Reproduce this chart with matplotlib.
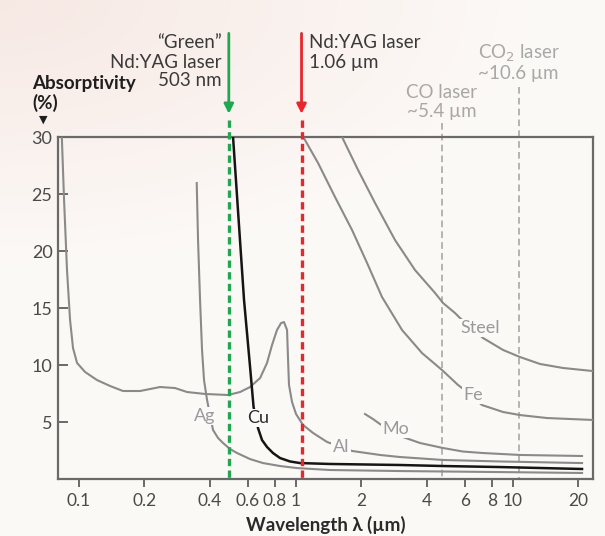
import numpy as np
import matplotlib
matplotlib.use("Agg")
import matplotlib.pyplot as plt

plt.rcParams['font.family'] = ['Lato', 'DejaVu Sans']

# ---------------- data (wavelength in µm, absorptivity in %) ----------------
al_x = [0.0833, 0.0853, 0.0880, 0.0909, 0.0938, 0.0979, 0.1066, 0.1210, 0.1390, 0.1595,
        0.1910, 0.2362, 0.2770, 0.3147, 0.3807, 0.486, 0.552, 0.614, 0.683, 0.735,
        0.775, 0.817, 0.853, 0.880, 0.909, 0.919, 0.928, 0.9585, 1.0, 1.077, 1.198,
        1.390, 1.812, 2.438, 3.016, 4.758, 8.713, 20.8]
al_y = [30.0, 24.47, 18.33, 13.95, 11.49, 10.18, 9.39, 8.68, 8.16, 7.72,
        7.72, 8.07, 7.98, 7.63, 7.46, 7.37, 7.63, 8.07, 8.86, 10.18,
        11.75, 13.07, 13.68, 13.77, 13.07, 10.44, 8.25, 6.75, 5.70, 4.74, 4.04,
        3.25, 2.46, 2.11, 1.93, 1.67, 1.54, 1.40]

ag_x = [0.3486, 0.3535, 0.3611, 0.3688, 0.3767, 0.389, 0.4145, 0.4371, 0.4609, 0.4965,
        0.5348, 0.614, 0.7046, 0.844, 1.011, 1.435, 3.016, 8.713, 20.8]
ag_y = [25.96, 20.96, 15.70, 11.32, 8.68, 6.93, 4.30, 3.60, 3.16, 2.63,
        2.28, 1.75, 1.40, 1.14, 0.96, 0.79, 0.70, 0.61, 0.53]

cu_x = [0.5125, 0.5759, 0.614, 0.6372, 0.668, 0.697, 0.735, 0.783, 0.844, 0.9385,
        1.043, 1.435, 3.016, 4.758, 8.713, 20.8]
cu_y = [30.0, 15.70, 9.82, 6.32, 4.47, 3.42, 2.81, 2.28, 1.84, 1.54,
        1.40, 1.32, 1.23, 1.14, 1.05, 0.88]

mo_x = [2.080, 2.263, 2.438, 3.113, 3.727, 4.758, 5.884, 7.274, 10.77, 20.8]
mo_y = [5.70, 5.26, 4.82, 3.68, 3.16, 2.72, 2.41, 2.28, 2.11, 2.02]

fe_x = [1.080, 1.263, 1.512, 1.812, 2.125, 2.491, 3.080, 3.807, 4.708, 5.578,
        5.82, 7.195, 8.994, 10.77, 14.34, 23.37]
fe_y = [30.0, 27.72, 24.74, 21.84, 18.95, 15.96, 13.07, 11.05, 9.56, 8.25,
        7.98, 6.49, 5.88, 5.61, 5.35, 5.18]

steel_x = [1.629, 1.931, 2.313, 2.859, 3.535, 4.371, 4.758, 5.403, 5.697, 7.274,
           8.994, 10.77, 13.32, 17.00, 23.37]
steel_y = [30.0, 27.11, 24.21, 20.96, 18.33, 16.32, 15.44, 14.56, 14.12, 12.37,
           11.32, 10.70, 10.09, 9.74, 9.47]

# label positions (x µm, y %)
labels = {"Ag": (0.3807, 5.53), "Cu": (0.668, 5.35), "Al": (1.612, 2.81),
          "Mo": (2.889, 4.39), "Fe": (6.541, 7.37), "Steel": (7.046, 13.25)}

green_x = 0.49
red_x = 1.06
co_x = 4.7
co2_x = 10.6

x_ticks = [0.1, 0.2, 0.4, 0.6, 0.8, 1, 2, 4, 6, 8, 10, 20]
x_ticklabels = ['0.1', '0.2', '0.4', '0.6', '0.8', '1', '2', '4', '6', '8', '10', '20']
y_ticks = [5, 10, 15, 20, 25, 30]

# ---------------- styling ----------------
bg = '#fcf9f6'
curve_grey = '#8a8a8a'
label_grey = '#9a9a9a'
green = '#1fa84f'
red = '#e8262c'
co_grey = '#a8a8a8'
spine_c = '#6a6a6a'
text_c = '#3a3a3a'

fig = plt.figure(figsize=(6.05, 5.36), dpi=100)
fig.patch.set_facecolor(bg)

# subtle background gradient (pinkish top-left)
bga = fig.add_axes([0, 0, 1, 1], zorder=-10)
yy, xx = np.mgrid[0:1:200j, 0:1:200j]
d = np.clip(np.sqrt((xx / 0.9) ** 2 + (yy / 0.5) ** 2), 0, 1)
c0 = np.array([0.968, 0.912, 0.893])
c1 = np.array([0.988, 0.978, 0.968])
img = c0[None, None, :] * (1 - d[..., None]) + c1[None, None, :] * d[..., None]
bga.imshow(img, aspect='auto', extent=[0, 1, 0, 1], origin='upper')
bga.axis('off')

ax = fig.add_axes([0.0959, 0.1063, 0.8843, 0.6381])
ax.set_facecolor('none')
ax.set_xscale('log')
ax.set_xlim(0.0800, 23.37)
ax.set_ylim(0, 30)

lw = 1.5
for xs, ys in ((al_x, al_y), (ag_x, ag_y), (mo_x, mo_y), (fe_x, fe_y), (steel_x, steel_y)):
    ax.plot(xs, ys, color=curve_grey, lw=lw, zorder=3, solid_joinstyle='round')
ax.plot(cu_x, cu_y, color='#151515', lw=1.8, zorder=4, solid_joinstyle='round')

for name, (lx, ly) in labels.items():
    col = '#2a2a2a' if name == 'Cu' else label_grey
    ax.text(lx, ly, name, color=col, fontsize=13, ha='center', va='center', zorder=6,
            bbox=dict(boxstyle='square,pad=0.08', fc='#fcfaf8', ec='none'))

trans = ax.get_xaxis_transform()

# laser lines
ax.plot([co_x, co_x], [1.041, 0], transform=trans, color=co_grey, lw=1.2,
        ls=(0, (4, 2.5)), clip_on=False, zorder=2)
ax.plot([co2_x, co2_x], [1.146, 0], transform=trans, color=co_grey, lw=1.2,
        ls=(0, (4, 2.5)), clip_on=False, zorder=2)
for xv, col in ((green_x, green), (red_x, red)):
    ax.plot([xv, xv], [1.05, 0], transform=trans, color=col, lw=2.4,
            ls=(0, (2.2, 1.3)), clip_on=False, zorder=5)
    ax.annotate('', xy=(xv, 1.068), xytext=(xv, 1.303), xycoords=trans,
                textcoords=trans, annotation_clip=False,
                arrowprops=dict(arrowstyle='-|>', color=col, lw=2.0,
                                mutation_scale=14, shrinkA=0, shrinkB=0))

fs = 13.5
for txt, yf in (('\u201cGreen\u201d', 1.275), ('Nd:YAG laser', 1.219), ('503 nm', 1.164)):
    ax.annotate(txt, xy=(green_x, yf), xycoords=trans, xytext=(-5, 0),
                textcoords='offset points', ha='right', va='center',
                fontsize=fs, color=text_c, annotation_clip=False)
for txt, yf in (('Nd:YAG laser', 1.275), ('1.06 \u00b5m', 1.219)):
    ax.annotate(txt, xy=(red_x, yf), xycoords=trans, xytext=(5.5, 0),
                textcoords='offset points', ha='left', va='center',
                fontsize=fs, color=text_c, annotation_clip=False)
for txt, yf in (('CO$_2$ laser', 1.246), ('~10.6 \u00b5m', 1.187)):
    ax.text(co2_x, yf, txt, transform=trans, ha='center', va='center',
            fontsize=fs, color=co_grey)
for txt, yf in (('CO laser', 1.129), ('~5.4 \u00b5m', 1.076)):
    ax.text(co_x, yf, txt, transform=trans, ha='center', va='center',
            fontsize=fs, color=co_grey)

# axes styling
for s in ax.spines.values():
    s.set_color(spine_c)
    s.set_linewidth(1.6)
ax.set_xticks(x_ticks)
ax.set_xticklabels(x_ticklabels)
ax.xaxis.set_minor_locator(matplotlib.ticker.NullLocator())
ax.set_yticks(y_ticks)
ax.set_yticklabels([str(v) for v in y_ticks])
ax.tick_params(axis='x', direction='out', length=6, width=1.4, color=spine_c,
               labelsize=12.5, labelcolor='#4a4a4a', pad=4)
ax.tick_params(axis='y', direction='in', length=7, width=1.4, color=spine_c,
               labelsize=13, labelcolor='#4a4a4a', pad=4)
ax.set_xlabel('Wavelength \u03bb (\u00b5m)', fontsize=13.5, fontweight='bold',
              color='#2a2a2a', labelpad=5)

fig.text(0.0529, 0.8451, 'Absorptivity', fontsize=13.5, fontweight='bold',
         color='#1e1e1e', ha='left', va='center')
fig.text(0.0529, 0.8078, '(%)', fontsize=13.5, fontweight='bold',
         color='#1e1e1e', ha='left', va='center')
fig.text(0.071, 0.777, '\u25bc', fontsize=8, color='#1e1e1e', ha='center',
         va='center', family=['DejaVu Sans'])

fig.savefig('out.png', dpi=100, facecolor=fig.get_facecolor())
